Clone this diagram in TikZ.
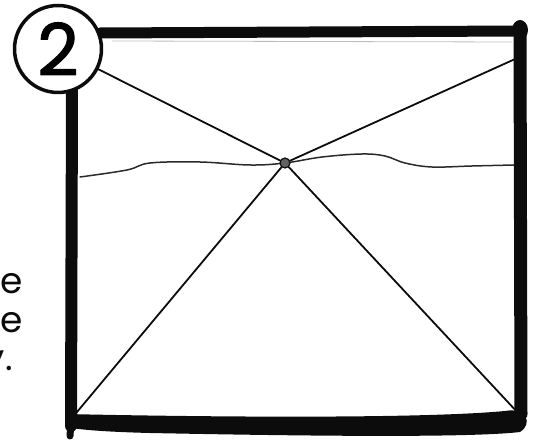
\documentclass[tikz,border=0pt]{standalone}
\usepackage{fontspec}
\newfontfamily\gothic{Poppins}
\newfontfamily\gothicmid[FakeBold=1.6]{Poppins}
\usetikzlibrary{calc}
\definecolor{ink}{HTML}{0C0C0C}
\definecolor{pencil}{HTML}{2A2A2A}
\definecolor{smudge}{HTML}{BDBDBD}

\begin{document}
\begin{tikzpicture}[x=1pt,y=-1pt,line cap=round,line join=round,
  frame/.style={ink,line width=12pt},
  ray/.style={ink,line width=1.8pt},
  blurb/.style={font=\gothic\fontsize{36}{40}\selectfont,text=ink,
    inner sep=0pt,anchor=base east}]
  \useasboundingbox (0,0) rectangle (544,443);
  \clip (0,0) rectangle (544,443);

  % thick sketched frame
  \draw[frame,line width=11pt] (100,33) -- (521,31);
  \draw[smudge,line width=.8pt] (112,41) -- (512,42);
  \draw[frame,line width=13pt] (520,28) -- (521,414);
  \fill[ink] (520,30) ellipse [x radius=8pt,y radius=10pt];
  \draw[frame] (72,90) -- (71,426);
  \draw[ink,line width=7pt] (71,422) -- (70,436);
  \fill[ink] (66,414) .. controls (200,417) and (420,419) .. (505,411)
    .. controls (527,407) and (533,424) .. (520,432)
    .. controls (470,438) and (300,436) .. (150,433)
    .. controls (110,432) and (80,430) .. (66,427) -- cycle;

  % numbered badge
  \node[circle,draw=ink,fill=white,line width=3.5pt,minimum size=87pt,
        inner sep=0pt,font=\gothicmid\fontsize{72}{72}\selectfont]
    (num) at (58,49) {2};

  % horizon line
  \draw[pencil,line width=1.5pt] plot[smooth,tension=.6] coordinates
    {(80,177) (127,170) (150,163) (200,162) (250,165) (285,163)
     (322,157) (362,154) (385,156) (405,163) (432,167) (472,166)
     (514,165)};

  % vanishing point and rays to the corners
  \node[circle,fill=ink!65,draw=ink,line width=1.2pt,minimum size=10pt,
        inner sep=0pt] (hub) at (285,163) {};
  \coordinate (tr) at (524,55);
  \coordinate (bl) at (72,418);
  \coordinate (br) at (519,414);
  \draw[ray] (num) -- (hub);
  \foreach \c in {tr,bl,br}
    \draw[ray] (hub) -- (\c);

  % cut-off caption at the left edge
  \node[blurb] (lineA) at (23,294) {ne};
  \node[blurb] (lineB) at (23,333) {ne};
  \node[blurb] (lineC) at (13,371) {y.};
\end{tikzpicture}
\end{document}
